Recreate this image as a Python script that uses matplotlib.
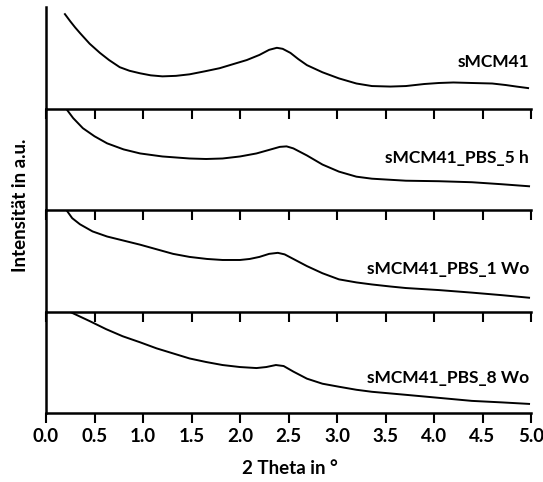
import matplotlib
matplotlib.use("Agg")
import matplotlib.pyplot as plt

# 2 Theta (deg) vs. relative intensity in each panel (0 = panel bottom, 1 = panel top)
x_mcm = [0.195, 0.25, 0.30, 0.35, 0.45, 0.556, 0.65, 0.76, 0.86, 0.97, 1.08, 1.20, 1.34, 1.48, 1.64, 1.79,
         1.93, 2.07, 2.20, 2.30, 2.38, 2.44, 2.52, 2.60, 2.69, 2.85, 3.02, 3.20, 3.36, 3.55, 3.71, 3.90,
         4.05, 4.20, 4.39, 4.60, 4.74, 4.85, 4.97]
y_mcm = [0.93, 0.86, 0.80, 0.745, 0.64, 0.55, 0.48, 0.41, 0.375, 0.35, 0.33, 0.32, 0.325, 0.34, 0.37, 0.40,
         0.44, 0.48, 0.53, 0.58, 0.60, 0.59, 0.55, 0.49, 0.43, 0.36, 0.30, 0.25, 0.225, 0.22, 0.225, 0.245,
         0.255, 0.26, 0.255, 0.25, 0.235, 0.22, 0.205]

x_5h = [0.21, 0.28, 0.38, 0.50, 0.63, 0.80, 0.97, 1.20, 1.48, 1.65, 1.82, 2.00, 2.17, 2.30, 2.41, 2.48,
        2.55, 2.69, 2.85, 3.02, 3.20, 3.36, 3.71, 4.05, 4.39, 4.70, 4.98]
y_5h = [1.0, 0.91, 0.81, 0.73, 0.66, 0.60, 0.56, 0.53, 0.51, 0.505, 0.51, 0.53, 0.56, 0.595, 0.625, 0.63,
        0.61, 0.54, 0.45, 0.38, 0.33, 0.31, 0.29, 0.285, 0.275, 0.255, 0.235]

x_1wo = [0.21, 0.27, 0.35, 0.48, 0.63, 0.80, 0.97, 1.14, 1.31, 1.48, 1.66, 1.82, 2.00, 2.10, 2.20, 2.30,
         2.39, 2.46, 2.55, 2.69, 2.85, 3.02, 3.20, 3.36, 3.55, 3.71, 4.05, 4.39, 4.70, 4.98]
y_1wo = [1.0, 0.92, 0.86, 0.79, 0.74, 0.70, 0.66, 0.615, 0.57, 0.54, 0.52, 0.51, 0.51, 0.52, 0.54, 0.57,
         0.58, 0.565, 0.52, 0.45, 0.38, 0.32, 0.29, 0.27, 0.25, 0.235, 0.215, 0.19, 0.165, 0.14]

x_8wo = [0.25, 0.45, 0.62, 0.79, 0.97, 1.14, 1.31, 1.48, 1.65, 1.82, 2.00, 2.17, 2.27, 2.37, 2.45, 2.55,
         2.69, 2.85, 3.02, 3.20, 3.36, 3.71, 4.05, 4.39, 4.70, 4.98]
y_8wo = [1.0, 0.91, 0.83, 0.76, 0.70, 0.64, 0.59, 0.54, 0.505, 0.475, 0.455, 0.445, 0.455, 0.475, 0.465, 0.41,
         0.34, 0.29, 0.26, 0.23, 0.21, 0.18, 0.15, 0.12, 0.105, 0.09]

labels = ["sMCM41", "sMCM41_PBS_5 h", "sMCM41_PBS_1 Wo", "sMCM41_PBS_8 Wo"]
label_y = [0.46, 0.51, 0.42, 0.35]
series = [(x_mcm, y_mcm), (x_5h, y_5h), (x_1wo, y_1wo), (x_8wo, y_8wo)]
xticks = [0.0, 0.5, 1.0, 1.5, 2.0, 2.5, 3.0, 3.5, 4.0, 4.5, 5.0]

plt.rcParams['font.family'] = ['Lato', 'DejaVu Sans']
plt.rcParams['font.weight'] = 'bold'

W, H = 543, 482
fig = plt.figure(figsize=(W / 100, H / 100), dpi=100)

left, right = 46, 531
edges = [7, 109, 210, 312, 413]  # panel top/bottom in pixels from top

for i, ((xs, ys), lab, ly) in enumerate(zip(series, labels, label_y)):
    top, bot = edges[i], edges[i + 1]
    ax = fig.add_axes([left / W, 1 - bot / H, (right - left) / W, (bot - top) / H])
    ax.plot(xs, ys, color="black", lw=1.4)
    ax.set_xlim(0, 5)
    ax.set_ylim(0, 1)
    ax.set_yticks([])
    ax.set_xticks(xticks)
    ax.tick_params(axis="x", direction="out", length=7, width=1.5, labelsize=13.5, pad=4)
    for s in ["top", "right"]:
        ax.spines[s].set_visible(False)
    ax.spines["left"].set_linewidth(1.8)
    ax.spines["bottom"].set_linewidth(1.8)
    if i < 3:
        ax.tick_params(axis="x", labelbottom=False)
    else:
        for t in ax.get_xticklabels():
            t.set_fontweight("bold")
    ax.text(4.98, ly, lab, ha="right", va="center", fontsize=12.5, fontweight="bold")
    ax.patch.set_alpha(0)

fig.text(290 / W, 1 - 468 / H, "2 Theta in °", ha="center", va="center", fontsize=13.5, fontweight="bold")
fig.text(21 / W, 1 - 205 / H, "Intensität in a.u.", ha="center", va="center", rotation=90,
         fontsize=13.5, fontweight="bold")

fig.savefig("out.png", dpi=100)
